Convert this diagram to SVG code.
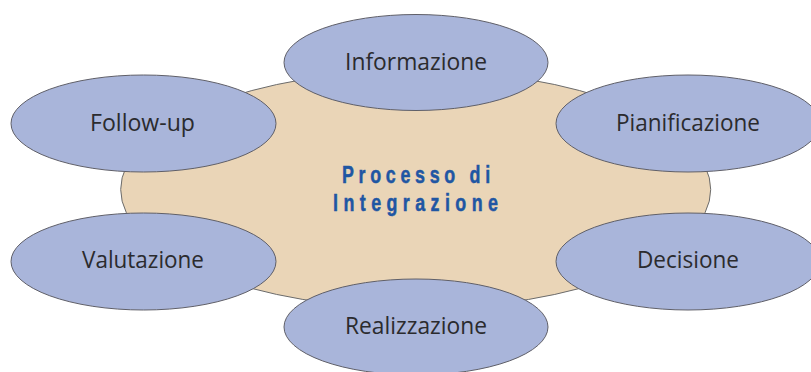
<svg xmlns="http://www.w3.org/2000/svg" width="811" height="372" viewBox="0 0 811 372">
<style>
.bg{fill:#EAD5B7;stroke:#6b6b6b;stroke-width:1}
.n{fill:#A9B5DA;stroke:#5f5f68;stroke-width:1}
.t{font-family:"Open Sans","Noto Sans",sans-serif;font-size:24px;fill:#2b2b2e;text-anchor:middle}
.c{font-family:"Liberation Sans",Arial,sans-serif;font-weight:bold;font-size:23.5px;fill:#1F56A3;stroke:#1F56A3;stroke-width:0.5;text-anchor:middle}
</style>
<rect width="811" height="372" fill="#ffffff"/>
<g id="centro">
<ellipse class="bg" cx="415.7" cy="189.5" rx="295" ry="119"/>
<text class="c" transform="translate(416 183.3) scale(0.76 1)" x="0" y="0" textLength="195" lengthAdjust="spacing">Processo di</text>
<text class="c" transform="translate(415.5 210.7) scale(0.76 1)" x="0" y="0" textLength="217" lengthAdjust="spacing">Integrazione</text>
</g>
<g id="informazione">
<ellipse class="n" cx="416" cy="62.5" rx="132" ry="48"/>
<text class="t" x="416" y="70" textLength="142" lengthAdjust="spacingAndGlyphs">Informazione</text>
</g>
<g id="pianificazione">
<ellipse class="n" cx="688" cy="123.5" rx="132" ry="48.5"/>
<text class="t" x="688" y="131" textLength="144" lengthAdjust="spacingAndGlyphs">Pianificazione</text>
</g>
<g id="follow-up">
<ellipse class="n" cx="143.5" cy="123.5" rx="132.5" ry="48.5"/>
<text class="t" x="142.5" y="130.7" textLength="105" lengthAdjust="spacingAndGlyphs">Follow-up</text>
</g>
<g id="valutazione">
<ellipse class="n" cx="143.5" cy="261.5" rx="132.5" ry="48.5"/>
<text class="t" x="143" y="267.7" textLength="122" lengthAdjust="spacingAndGlyphs">Valutazione</text>
</g>
<g id="decisione">
<ellipse class="n" cx="688" cy="261.5" rx="132" ry="48.5"/>
<text class="t" x="688" y="267.7" textLength="102" lengthAdjust="spacingAndGlyphs">Decisione</text>
</g>
<g id="realizzazione">
<ellipse class="n" cx="416" cy="327" rx="132" ry="48"/>
<text class="t" x="416" y="334" textLength="142" lengthAdjust="spacingAndGlyphs">Realizzazione</text>
</g>
</svg>
